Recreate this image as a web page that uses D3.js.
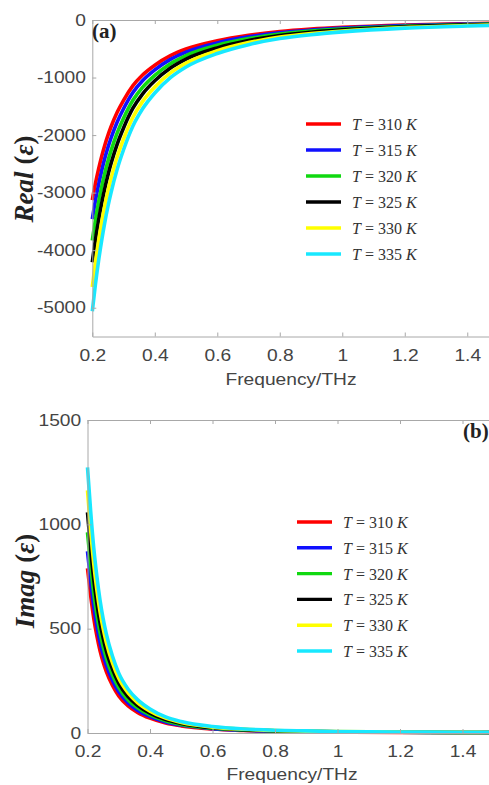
<!DOCTYPE html>
<html>
<head>
<meta charset="utf-8">
<script src="https://cdn.jsdelivr.net/npm/d3@7/dist/d3.min.js"></script>
<style>
  html, body { margin: 0; padding: 0; background: #fff; }
  svg { display: block; }
  .tick line, .domain { stroke: #a8a8a8; stroke-width: 1; }
  .tick text { font-family: "Liberation Sans", Arial, sans-serif; font-size: 16px; fill: #444; }
</style>
</head>
<body>
<svg id="chart" width="489" height="785"></svg>
<script>
// Frequency grid (THz)
const freq = [0.2, 0.21, 0.22, 0.23, 0.24, 0.25, 0.26, 0.28, 0.3, 0.33, 0.36, 0.4, 0.45, 0.5, 0.6, 0.7, 0.8, 0.9, 1.0, 1.2, 1.4, 1.5];

// Temperatures (K)
const temps = [310, 315, 320, 325, 330, 335];

// Real part of permittivity
const real310 = [-3130, -2840, -2590, -2370, -2175, -2005, -1855, -1600, -1395, -1140, -960, -785, -620, -505, -360, -265, -200, -158, -128, -88, -65, -56];
const real315 = [-3460, -3139, -2863, -2620, -2404, -2216, -2051, -1769, -1542, -1260, -1061, -868, -685, -558, -398, -293, -221, -175, -141, -97, -72, -62];
const real320 = [-3830, -3475, -3169, -2900, -2661, -2453, -2270, -1958, -1707, -1395, -1175, -961, -759, -618, -440, -324, -245, -193, -157, -108, -80, -69];
const real325 = [-4210, -3820, -3484, -3188, -2925, -2697, -2495, -2152, -1876, -1533, -1291, -1056, -834, -679, -484, -356, -269, -213, -172, -118, -87, -75];
const real330 = [-4640, -4210, -3839, -3513, -3224, -2972, -2750, -2372, -2068, -1690, -1423, -1164, -919, -749, -534, -393, -296, -234, -190, -130, -96, -83];
const real335 = [-5060, -4591, -4187, -3831, -3516, -3241, -2999, -2587, -2255, -1843, -1552, -1269, -1002, -816, -582, -428, -323, -255, -207, -142, -105, -91];

// Imaginary part of permittivity
const imag310 = [789, 660, 550, 465, 395, 340, 295, 228, 178, 130, 99, 71, 48, 34, 19, 12, 8, 6, 4.5, 3, 2, 1.8];
const imag315 = [871, 729, 607, 513, 436, 375, 326, 252, 197, 144, 109, 78, 53, 38, 21, 13, 9, 7, 5, 3.3, 2.2, 2];
const imag320 = [962, 805, 670, 567, 482, 414, 360, 278, 217, 158, 121, 87, 59, 41, 23, 15, 10, 7, 5.5, 3.7, 2.4, 2.2];
const imag325 = [1057, 884, 737, 623, 529, 456, 395, 306, 239, 174, 133, 95, 64, 46, 25, 16, 11, 8, 6, 4, 2.7, 2.4];
const imag330 = [1163, 973, 811, 685, 582, 501, 435, 336, 262, 192, 146, 105, 71, 50, 28, 18, 12, 9, 6.6, 4.4, 3, 2.7];
const imag335 = [1273, 1065, 887, 750, 637, 548, 476, 368, 287, 210, 160, 115, 77, 55, 31, 19, 13, 10, 7.3, 4.8, 3.2, 2.9];

// Axis ticks
const xTicks = [0.2, 0.4, 0.6, 0.8, 1.0, 1.2, 1.4];
const xTickLabels = ["0.2", "0.4", "0.6", "0.8", "1", "1.2", "1.4"];
const realTicks = [0, -1000, -2000, -3000, -4000, -5000];
const realTickLabels = ["0", "-1000", "-2000", "-3000", "-4000", "-5000"];
const imagTicks = [0, 500, 1000, 1500];
const imagTickLabels = ["0", "500", "1000", "1500"];

const realSeries = [real310, real315, real320, real325, real330, real335];
const imagSeries = [imag310, imag315, imag320, imag325, imag330, imag335];

// Line colours per temperature
const colors = ["#ff0000", "#1010ff", "#10d810", "#000000", "#ffff00", "#18e8ff"];

const svg = d3.select("#chart");
svg.append("rect").attr("width", 489).attr("height", 785).attr("fill", "#fff");

const SX = 1.2; // horizontal stretch of sans-serif labels

function panel(opts) {
  const { x, y, series, yTicks, yTickLabels, xPad, legend, yLabel, tag, xTitle } = opts;
  const g = svg.append("g");
  const [x0, x1] = x.range();
  const [yb, yt] = y.range();

  // Curves
  const line = d3.line()
    .x((d, i) => x(freq[i]))
    .y(d => y(d))
    .curve(d3.curveMonotoneX);
  series.forEach((s, k) => {
    g.append("path")
      .datum(s)
      .attr("d", line)
      .attr("fill", "none")
      .attr("stroke", colors[k])
      .attr("stroke-width", 3.6)
      .attr("stroke-linejoin", "round");
  });

  // Box axes with inward ticks
  const bottom = g.append("g").attr("transform", `translate(0,${yb})`)
    .call(d3.axisBottom(x).tickValues(xTicks)
      .tickFormat((d, i) => xTickLabels[i]).tickSize(-4).tickSizeOuter(0).tickPadding(xPad));
  bottom.selectAll(".tick text").attr("transform", `scale(${SX},1)`);

  g.append("g").attr("transform", `translate(0,${yt})`)
    .call(d3.axisTop(x).tickValues(xTicks).tickFormat("").tickSize(-4).tickSizeOuter(0));

  const left = g.append("g").attr("transform", `translate(${x0},0)`)
    .call(d3.axisLeft(y).tickValues(yTicks)
      .tickFormat((d, i) => yTickLabels[i]).tickSize(-4).tickSizeOuter(0).tickPadding(5.3));
  left.selectAll(".tick text").attr("transform", `scale(${SX},1)`);

  g.append("line").attr("x1", x1).attr("x2", x1).attr("y1", yt).attr("y2", yb)
    .attr("stroke", "#a8a8a8");

  // Axis titles
  g.append("text")
    .attr("transform", `translate(${xTitle.x},${xTitle.y}) scale(${SX},1)`)
    .attr("text-anchor", "middle")
    .attr("font-family", "'Liberation Sans', Arial, sans-serif")
    .attr("font-size", 16).attr("fill", "#444")
    .text("Frequency/THz");

  const yl = g.append("text")
    .attr("transform", `translate(${yLabel.x},${yLabel.y}) rotate(-90)`)
    .attr("text-anchor", "middle")
    .attr("font-family", "'Liberation Serif', 'Times New Roman', serif")
    .attr("font-size", 27).attr("font-weight", "bold").attr("font-style", "italic")
    .attr("fill", "#222");
  yl.append("tspan").text(yLabel.text);
  yl.append("tspan").attr("dx", 7).attr("font-style", "normal").text("(");
  yl.append("tspan").text("ε");
  yl.append("tspan").attr("font-style", "normal").text(")");

  // Panel tag
  g.append("text")
    .attr("x", tag.x).attr("y", tag.y)
    .attr("font-family", "'Liberation Serif', 'Times New Roman', serif")
    .attr("font-size", 21).attr("font-weight", "bold").attr("fill", "#222")
    .text(tag.text);

  // Legend
  temps.forEach((t, k) => {
    const ly = legend.y + k * legend.step;
    g.append("line")
      .attr("x1", legend.x).attr("x2", legend.x + 35)
      .attr("y1", ly).attr("y2", ly)
      .attr("stroke", colors[k]).attr("stroke-width", 3.4);
    const tx = g.append("text")
      .attr("x", legend.x + 46).attr("y", ly + 6)
      .attr("font-family", "'Liberation Serif', 'Times New Roman', serif")
      .attr("font-size", 16).attr("fill", "#333");
    tx.append("tspan").attr("font-style", "italic").text("T");
    tx.append("tspan").text(` = ${t} `);
    tx.append("tspan").attr("font-style", "italic").text("K");
  });
}

// (a) Real part
panel({
  x: d3.scaleLinear().domain([0.2, 1.5]).range([92.3, 498.5]),
  y: d3.scaleLinear().domain([-5500, 0]).range([336.5, 20]),
  series: realSeries,
  yTicks: realTicks, yTickLabels: realTickLabels,
  xPad: 13.5,
  legend: { x: 306, y: 124, step: 26 },
  yLabel: { x: 33, y: 179, text: "Real" },
  tag: { x: 92, y: 38, text: "(a)" },
  xTitle: { x: 291, y: 385 }
});

// (b) Imaginary part
panel({
  x: d3.scaleLinear().domain([0.2, 1.5]).range([87.5, 493.75]),
  y: d3.scaleLinear().domain([0, 1500]).range([733, 420]),
  series: imagSeries,
  yTicks: imagTicks, yTickLabels: imagTickLabels,
  xPad: 12.5,
  legend: { x: 297, y: 522, step: 25.8 },
  yLabel: { x: 34, y: 581, text: "Imag" },
  tag: { x: 463, y: 438, text: "(b)" },
  xTitle: { x: 292, y: 780 }
});
</script>
</body>
</html>
